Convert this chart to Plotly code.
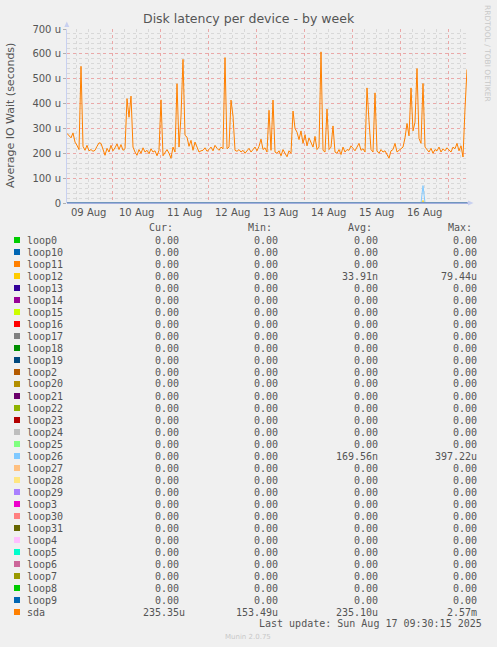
import pandas as pd
import plotly.graph_objects as go

# ---------------- data ----------------
start = "2025-08-09 01:30"
# sda average IO wait, hourly samples, in microseconds
sda = [
    280, 272, 262, 282, 245, 232, 215, 550, 228, 212,
    232, 210, 215, 208, 212, 228, 242, 240, 212, 192,
    220, 205, 232, 210, 222, 238, 215, 235, 212, 218,
    420, 345, 430, 225, 205, 192, 215, 200, 222, 205,
    212, 198, 218, 205, 210, 190, 212, 415, 190, 205,
    215, 200, 180, 225, 205, 480, 225, 350, 578, 272,
    265, 228, 252, 212, 245, 225, 205, 210, 212, 222,
    208, 215, 225, 210, 232, 220, 212, 225, 218, 585,
    218, 225, 414, 350, 212, 208, 215, 205, 212, 200,
    212, 220, 205, 215, 225, 210, 228, 257, 215, 222,
    205, 373, 212, 414, 205, 200, 210, 190, 215, 200,
    186, 210, 200, 370, 300, 285, 255, 290, 240, 275,
    230, 262, 245, 225, 268, 215, 225, 608, 212, 205,
    378, 215, 225, 310, 205, 200, 215, 195, 225, 205,
    215, 212, 230, 218, 210, 225, 240, 212, 218, 205,
    463, 330, 215, 205, 443, 210, 200, 215, 205, 210,
    195, 180, 210, 215, 240, 205, 212, 218, 225, 262,
    320, 270, 463, 290, 325, 541, 260, 240, 481, 225,
    215, 205, 220, 200, 215, 210, 225, 205, 218, 210,
    222, 212, 205, 225, 218, 240, 210, 230, 185, 380,
    537,
]
# non-zero samples of loop devices (hour index -> value in microseconds)
loop12_spikes = {178: 10}
loop26_spikes = {178: 70}

series_names = [
    "loop0", "loop10", "loop11", "loop12", "loop13", "loop14", "loop15", "loop16",
    "loop17", "loop18", "loop19", "loop2", "loop20", "loop21", "loop22", "loop23",
    "loop24", "loop25", "loop26", "loop27", "loop28", "loop29", "loop3", "loop30",
    "loop31", "loop4", "loop5", "loop6", "loop7", "loop8", "loop9", "sda",
]
series_colors = [
    "#00CC00", "#0066B3", "#FF8000", "#FFCC00", "#330099", "#990099", "#CCFF00", "#FF0000",
    "#808080", "#008F00", "#00487D", "#B35A00", "#B38F00", "#6B006B", "#8FB300", "#B30000",
    "#BEBEBE", "#80FF80", "#80C9FF", "#FFC080", "#FFE680", "#AA80FF", "#EE00CC", "#FF8080",
    "#666600", "#FFBFFF", "#00FFCC", "#CC6699", "#999900", "#00CC00", "#0066B3", "#FF8000",
]
cur_vals = ["0.00"] * 31 + ["235.35u"]
min_vals = ["0.00"] * 31 + ["153.49u"]
avg_vals = ["0.00"] * 31 + ["235.10u"]
max_vals = ["0.00"] * 31 + ["2.57m"]
avg_vals[3], max_vals[3] = "33.91n", "79.44u"
avg_vals[18], max_vals[18] = "169.56n", "397.22u"

day_labels = ["09 Aug", "10 Aug", "11 Aug", "12 Aug", "13 Aug", "14 Aug", "15 Aug", "16 Aug"]
day_dates = ["2025-08-09", "2025-08-10", "2025-08-11", "2025-08-12",
             "2025-08-13", "2025-08-14", "2025-08-15", "2025-08-16"]
y_ticks = [0, 100, 200, 300, 400, 500, 600, 700]
y_ticktext = ["0", "100 u", "200 u", "300 u", "400 u", "500 u", "600 u", "700 u"]

# ---------------- figure ----------------
W, H = 497, 647
L, R, T, B = 67, 467, 29, 203


def px(x):
    return (x - L) / (R - L)


def py(y):
    return (B - y) / (B - T)


times = pd.date_range(start, periods=len(sda), freq="h")
n = len(times)

fig = go.Figure()
for name, color in zip(series_names, series_colors):
    if name == "sda":
        vals = sda
    else:
        vals = [0.0] * n
        spikes = loop12_spikes if name == "loop12" else loop26_spikes if name == "loop26" else {}
        for k, v in spikes.items():
            vals[k] = v
    fig.add_trace(go.Scatter(x=times, y=vals, mode="lines", name=name,
                             line=dict(color=color, width=1), hoverinfo="skip",
                             showlegend=False))

txt = "#555555"
fig.update_layout(
    width=W, height=H,
    margin=dict(l=L, r=W - R, t=T, b=H - B),
    paper_bgcolor="#f0f0f0", plot_bgcolor="#f0f0f0",
    showlegend=False,
    font=dict(family="DejaVu Sans", size=10, color=txt),
)
fig.update_xaxes(
    type="date", range=[times[0], times[-1]],
    showticklabels=False, ticks="",
    tick0="2025-08-10 00:00", dtick=86400000,
    showgrid=True, gridcolor="#eaa8a8", griddash="dot", gridwidth=1,
    minor=dict(dtick=6 * 3600000, tick0="2025-08-10 00:00", showgrid=True,
               gridcolor="#d8d8d8", griddash="dot", gridwidth=1),
    showline=False,
    zeroline=False,
)
fig.update_yaxes(
    range=[0, 700], tickvals=y_ticks, ticktext=y_ticktext,
    ticks="outside", ticklen=3, tickcolor="#b0b0b0",
    showgrid=True, gridcolor="#eaa8a8", griddash="dot", gridwidth=1,
    minor=dict(dtick=20, showgrid=True, gridcolor="#d8d8d8", griddash="dot", gridwidth=1),
    showline=True, linecolor="#c8d0f0", linewidth=1,
    zeroline=False,
    tickfont=dict(family="DejaVu Sans", size=10, color=txt),
)

ann = []


def add_text(x, y, text, size=10, family="DejaVu Sans Mono", color=txt, xanchor="left",
             yanchor="middle", angle=0, xref="paper"):
    ann.append(dict(x=x, y=y, xref=xref, yref="paper", text=text, showarrow=False,
                    xanchor=xanchor, yanchor=yanchor, textangle=angle,
                    borderpad=0, borderwidth=0,
                    font=dict(family=family, size=size, color=color)))


# title
add_text(px(248.5), py(19), "Disk latency per device - by week", size=12.5,
         family="DejaVu Sans", color="#555555", xanchor="center")
# y axis title
add_text(px(11), py(115), "Average IO Wait (seconds)", size=11, family="DejaVu Sans",
         color=txt, xanchor="center", angle=-90)
# x tick labels at noon of each day
for d, lab in zip(day_dates, day_labels):
    add_text(pd.Timestamp(d) + pd.Timedelta(hours=12), py(212.5), lab, size=10,
             family="DejaVu Sans", xanchor="center", xref="x")
# watermark
add_text(px(488), py(53), "RRDTOOL / TOBI OETIKER", size=7.5, family="DejaVu Sans",
         color="#c8c8c8", xanchor="center", angle=90)

# legend header
for xr, h in zip([172.5, 272.3, 372.3, 471.5], ["Cur:", "Min:", "Avg:", "Max:"]):
    add_text(px(xr), py(227.5), h, xanchor="right")

shapes = []
row0, step = 240.0, 12.0
for i, name in enumerate(series_names):
    yc = row0 + i * step
    shapes.append(dict(type="rect", xref="paper", yref="paper",
                       x0=px(14), x1=px(20), y0=py(yc + 3), y1=py(yc - 3),
                       fillcolor=series_colors[i], line=dict(width=0)))
    add_text(px(26.5), py(yc), name)
    cv = cur_vals[i]
    cur_edge = 185 if cv[-1].isalpha() else 179
    add_text(px(cur_edge), py(yc), cv, xanchor="right")
    add_text(px(278.3), py(yc), min_vals[i], xanchor="right")
    add_text(px(377.7), py(yc), avg_vals[i], xanchor="right")
    add_text(px(476.7), py(yc), max_vals[i], xanchor="right")

add_text(px(482.3), py(623.5), "Last update: Sun Aug 17 09:30:15 2025", xanchor="right")
add_text(px(248), py(636.5), "Munin 2.0.75", size=7, family="DejaVu Sans",
         color="#c8c8c8", xanchor="center")

# x axis baseline drawn above the zero-valued series
shapes.append(dict(type="line", xref="paper", yref="paper", x0=0, x1=1.003, y0=0, y1=0,
                   line=dict(color="#8a9ad8", width=1.5), layer="above"))
# axis arrows
shapes.append(dict(type="path", xref="paper", yref="paper",
                   path=f"M {px(64.3)} {py(27)} L {px(69.3)} {py(27)} L {px(66.8)} {py(21.5)} Z",
                   fillcolor="#c8d0f0", line=dict(width=0)))
shapes.append(dict(type="path", xref="paper", yref="paper",
                   path=f"M {px(468)} {py(200.5)} L {px(468)} {py(205.5)} L {px(473.5)} {py(203)} Z",
                   fillcolor="#c8d0f0", line=dict(width=0)))

fig.update_layout(annotations=ann, shapes=shapes)
fig.write_html(
    "out.html",
    config={"displayModeBar": False},
    post_script="document.body.style.margin='0';document.body.style.padding='0';"
                "document.body.style.background='#f0f0f0';",
)
